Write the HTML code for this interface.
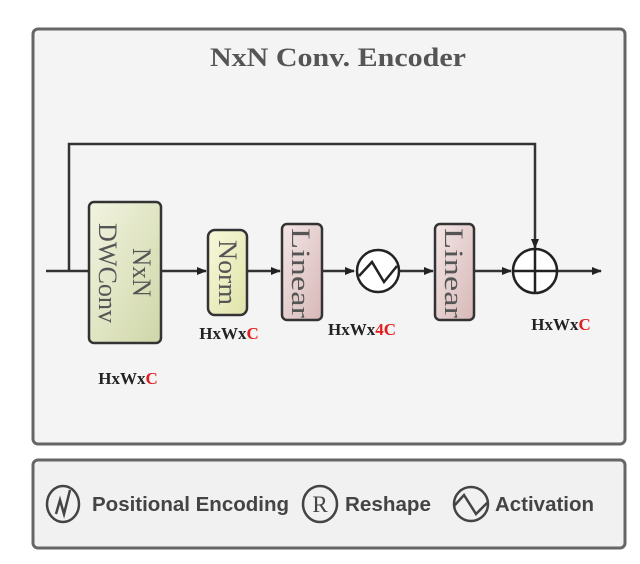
<!DOCTYPE html>
<html><head><meta charset="utf-8"><style>
html,body{margin:0;padding:0;background:#fff;}
svg{display:block;}
</style></head><body>
<svg width="640" height="564" viewBox="0 0 640 564" xmlns="http://www.w3.org/2000/svg">
<defs>
<marker id="a" markerWidth="10" markerHeight="10" refX="9" refY="5" orient="auto" markerUnits="userSpaceOnUse">
<path d="M0,1 L10,5 L0,9 Z" fill="#222"/></marker>
<linearGradient id="g1" x1="0" y1="0" x2="1" y2="1"><stop offset="0" stop-color="#f2f4e0"/><stop offset="1" stop-color="#cfd6a8"/></linearGradient>
<linearGradient id="g2" x1="0" y1="0" x2="1" y2="1"><stop offset="0" stop-color="#f8f8dc"/><stop offset="1" stop-color="#dfe3a8"/></linearGradient>
<linearGradient id="g3" x1="0" y1="0" x2="1" y2="1"><stop offset="0" stop-color="#f3e6e6"/><stop offset="1" stop-color="#d8b8b8"/></linearGradient>
</defs>
<rect x="0" y="0" width="640" height="564" fill="#fff"/>
<rect x="33" y="29" width="592" height="415" rx="5" fill="#f4f4f5" stroke="#666" stroke-width="3"/>
<rect x="33" y="460" width="592" height="88" rx="5" fill="#f1f1f2" stroke="#666" stroke-width="3"/>
<text x="210" y="66" textLength="256" lengthAdjust="spacingAndGlyphs" font-family="Liberation Serif,serif" font-weight="bold" font-size="26" fill="#555">NxN Conv. Encoder</text>
<g stroke="#333" stroke-width="2.5" fill="none">
<path d="M69,271 V144 H535 V248" marker-end="url(#a)"/>
<line x1="46" y1="271" x2="89" y2="271"/>
<line x1="161" y1="271" x2="206" y2="271" marker-end="url(#a)"/>
<line x1="247" y1="271" x2="280" y2="271" marker-end="url(#a)"/>
<line x1="322" y1="271" x2="354" y2="271" marker-end="url(#a)"/>
<line x1="400" y1="271" x2="433" y2="271" marker-end="url(#a)"/>
<line x1="474" y1="271" x2="511" y2="271" marker-end="url(#a)"/>
<line x1="557" y1="271" x2="601" y2="271" marker-end="url(#a)"/>
</g>
<rect x="89" y="202" width="72" height="141" rx="5" fill="url(#g1)" stroke="#333" stroke-width="2.5"/>
<rect x="208" y="230" width="39" height="85" rx="7" fill="url(#g2)" stroke="#333" stroke-width="2.5"/>
<rect x="282" y="224" width="40" height="96" rx="5" fill="url(#g3)" stroke="#333" stroke-width="2.5"/>
<rect x="435" y="224" width="39" height="96" rx="5" fill="url(#g3)" stroke="#333" stroke-width="2.5"/>
<g font-family="Liberation Serif,serif" font-size="26" fill="#555">
<text transform="translate(133,248) rotate(90)" textLength="49" lengthAdjust="spacingAndGlyphs">NxN</text>
<text transform="translate(99,223) rotate(90)" textLength="100" lengthAdjust="spacingAndGlyphs">DWConv</text>
<text transform="translate(219,240) rotate(90)" textLength="65" lengthAdjust="spacingAndGlyphs">Norm</text>
<text transform="translate(292,228) rotate(90)" textLength="90" lengthAdjust="spacingAndGlyphs">Linear</text>
<text transform="translate(445,228) rotate(90)" textLength="90" lengthAdjust="spacingAndGlyphs">Linear</text>
</g>
<circle cx="378" cy="271" r="21" fill="#fff" stroke="#222" stroke-width="2.5"/>
<path d="M359,276 L372,262 L384,282 L397,266" fill="none" stroke="#222" stroke-width="2.5"/>
<circle cx="535" cy="271" r="22" fill="#fff" stroke="#222" stroke-width="2.5"/>
<path d="M513,271 H557 M535,249 V293" stroke="#222" stroke-width="2.5"/>
<g font-family="Liberation Serif,serif" font-weight="bold" font-size="17" fill="#222" text-anchor="middle">
<text x="229" y="339">HxWx<tspan fill="#e02020">C</tspan></text>
<text x="362" y="335">HxWx<tspan fill="#e02020">4C</tspan></text>
<text x="561" y="330">HxWx<tspan fill="#e02020">C</tspan></text>
<text x="128" y="384">HxWx<tspan fill="#e02020">C</tspan></text>
</g>
<g stroke="#444" stroke-width="2.5" fill="none">
<ellipse cx="63" cy="504" rx="16" ry="18"/>
<path d="M56,514 L60,500 L64,514 L70,490"/>
<ellipse cx="320" cy="504" rx="17" ry="18"/>
<ellipse cx="471" cy="504" rx="17" ry="17"/>
<path d="M454,506 L464,495 L476,514 L488,502"/>
</g>
<text x="320" y="512" text-anchor="middle" font-family="Liberation Serif,serif" font-size="23" fill="#444">R</text>
<g font-family="Liberation Sans,sans-serif" font-weight="bold" font-size="20" fill="#444">
<text x="92" y="511" textLength="197" lengthAdjust="spacingAndGlyphs">Positional Encoding</text>
<text x="345" y="511" textLength="86" lengthAdjust="spacingAndGlyphs">Reshape</text>
<text x="495" y="511" textLength="99" lengthAdjust="spacingAndGlyphs">Activation</text>
</g>
</svg>
</body></html>
